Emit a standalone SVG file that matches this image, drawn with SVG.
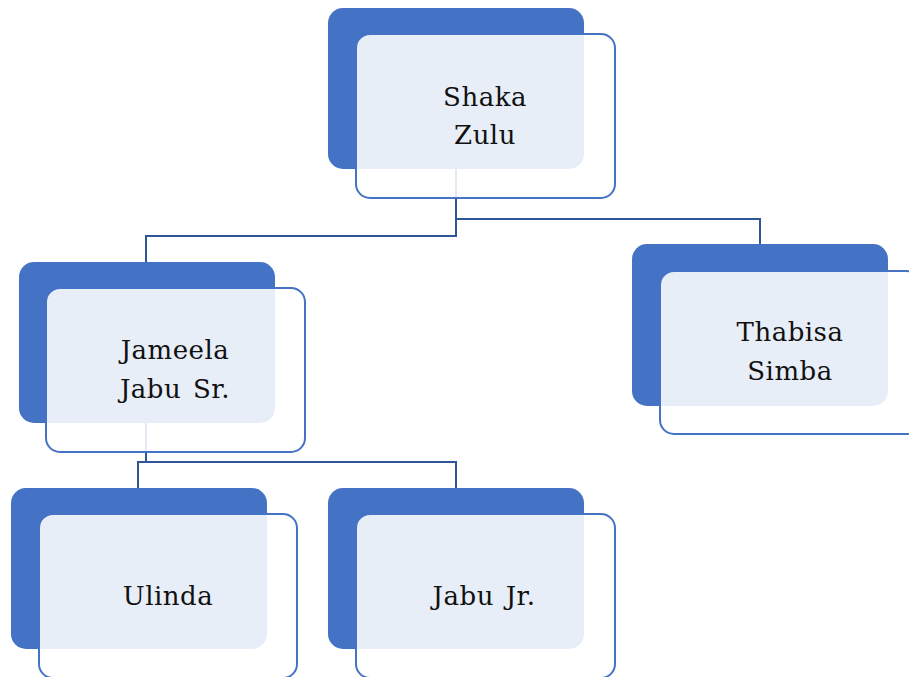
<svg xmlns="http://www.w3.org/2000/svg" width="909" height="677" viewBox="0 0 909 677">
<style>
.back{fill:#4472C4}
.front{fill:#FFFFFF;fill-opacity:0.88;stroke:#4472C4;stroke-width:2}
.conn{fill:none;stroke:#2F5597;stroke-width:2}
.lbl{font-family:"DejaVu Serif","Liberation Serif",serif;font-size:26px;letter-spacing:0.5px;word-spacing:3px;fill:#111;text-anchor:middle}
</style>
<rect width="909" height="677" fill="#FFFFFF"/>
<g id="backs">
<rect class="back" x="328" y="8" width="256" height="161" rx="15"/>
<rect class="back" x="19" y="262" width="256" height="161" rx="15"/>
<rect class="back" x="632" y="244" width="256" height="162" rx="15"/>
<rect class="back" x="11" y="488" width="256" height="161" rx="15"/>
<rect class="back" x="328" y="488" width="256" height="161" rx="15"/>
</g>
<g id="connectors">
<path class="conn" d="M456,169 V236 H146 V262"/>
<path class="conn" d="M456,219 H760 V244"/>
<path class="conn" d="M146,423 V462"/>
<path class="conn" d="M138,488 V462 H456 V488"/>
</g>
<g id="shaka">
<rect class="front" x="356" y="34" width="259" height="164" rx="14"/>
<text class="lbl" x="485" y="106">Shaka</text>
<text class="lbl" x="485" y="144">Zulu</text>
</g>
<g id="jameela">
<rect class="front" x="46" y="288" width="259" height="164" rx="14"/>
<text class="lbl" x="175" y="359">Jameela</text>
<text class="lbl" x="175" y="398">Jabu Sr.</text>
</g>
<g id="thabisa">
<rect class="front" x="660" y="271" width="260" height="163" rx="14"/>
<text class="lbl" x="790" y="341">Thabisa</text>
<text class="lbl" x="790" y="380">Simba</text>
</g>
<g id="ulinda">
<rect class="front" x="39" y="514" width="258" height="164" rx="14"/>
<text class="lbl" x="168" y="605">Ulinda</text>
</g>
<g id="jabujr">
<rect class="front" x="356" y="514" width="259" height="164" rx="14"/>
<text class="lbl" x="484" y="605">Jabu Jr.</text>
</g>
</svg>
